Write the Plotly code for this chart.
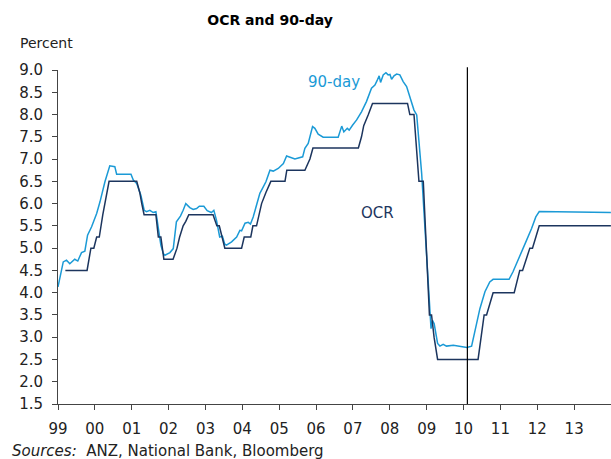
import plotly.graph_objects as go

# OCR (official cash rate)
ocr_dates = ["1999-03-15", "1999-10-16", "1999-11-23", "1999-12-22", "2000-01-19", "2000-02-14",
             "2000-03-20", "2000-04-09", "2000-05-21", "2001-02-19", "2001-03-21", "2001-04-10",
             "2001-05-03", "2001-08-28", "2001-09-21", "2001-10-16", "2001-11-15", "2002-02-14",
             "2002-03-25", "2002-04-20", "2002-05-25", "2002-06-20", "2002-07-20", "2003-03-17",
             "2003-04-24", "2003-05-18", "2003-06-12", "2003-07-12", "2003-12-25", "2004-01-20",
             "2004-03-25", "2004-04-15", "2004-05-21", "2004-06-13", "2004-07-10", "2004-08-22",
             "2004-10-10", "2005-02-27", "2005-03-17", "2005-09-12", "2005-11-01", "2005-12-01",
             "2007-02-24", "2007-03-27", "2007-04-18", "2007-06-03", "2007-07-14", "2008-06-25",
             "2008-07-18", "2008-08-28", "2008-10-16", "2008-11-28", "2009-01-28", "2009-02-18",
             "2009-03-15", "2009-04-19", "2010-05-25", "2010-07-24", "2010-08-17", "2010-10-21",
             "2011-05-18", "2011-07-12", "2011-08-09", "2011-10-20", "2011-11-15", "2012-01-21",
             "2013-12-31"]
ocr_vals = [4.5, 4.5, 5.0, 5.0, 5.25, 5.25,
            5.75, 6.0, 6.5, 6.5, 6.25, 6.0,
            5.75, 5.75, 5.25, 5.25, 4.75, 4.75,
            5.0, 5.25, 5.5, 5.6, 5.75, 5.75,
            5.5, 5.5, 5.25, 5.0, 5.0, 5.25,
            5.25, 5.5, 5.5, 5.75, 6.0, 6.25,
            6.5, 6.5, 6.75, 6.75, 7.0, 7.25,
            7.25, 7.5, 7.75, 8.0, 8.25, 8.25,
            8.0, 8.0, 6.5, 6.5, 3.5, 3.5,
            3.0, 2.5, 2.5, 3.5, 3.5, 4.0,
            4.0, 4.5, 4.5, 5.0, 5.0, 5.5,
            5.5]

# 90-day bank bill rate
bill_dates = ["1999-01-01", "1999-02-22", "1999-03-26", "1999-04-28", "1999-06-16", "1999-07-16",
              "1999-08-22", "1999-09-24", "1999-10-21", "1999-11-30", "2000-01-19", "2000-02-21",
              "2000-04-10", "2000-05-12", "2000-05-28", "2000-07-17", "2000-08-04", "2000-12-24",
              "2001-01-16", "2001-02-19", "2001-04-01", "2001-05-04", "2001-05-27", "2001-06-29",
              "2001-08-01", "2001-08-28", "2001-09-21", "2001-10-16", "2001-11-09", "2001-11-25",
              "2002-01-14", "2002-02-16", "2002-03-19", "2002-04-28", "2002-05-25", "2002-06-20",
              "2002-07-30", "2002-09-01", "2002-10-05", "2002-11-01", "2002-12-16", "2003-01-18",
              "2003-03-01", "2003-03-25", "2003-04-20", "2003-05-22", "2003-06-18", "2003-07-11",
              "2003-07-28", "2003-09-17", "2003-11-06", "2003-12-08", "2003-12-25", "2004-01-28",
              "2004-02-29", "2004-03-22", "2004-04-18", "2004-05-21", "2004-06-23", "2004-07-19",
              "2004-08-22", "2004-10-01", "2004-11-03", "2004-12-22", "2005-02-11", "2005-03-15",
              "2005-04-16", "2005-06-05", "2005-08-21", "2005-09-12", "2005-10-15", "2005-11-08",
              "2005-11-27", "2005-12-20", "2006-01-22", "2006-03-12", "2006-08-08", "2006-09-12",
              "2006-10-03", "2006-11-06", "2006-11-25", "2006-12-28", "2007-02-07", "2007-03-27",
              "2007-05-15", "2007-07-04", "2007-08-07", "2007-08-28", "2007-09-18", "2007-10-02",
              "2007-10-28", "2007-11-24", "2007-12-16", "2008-01-03", "2008-01-19", "2008-02-12",
              "2008-03-09", "2008-04-10", "2008-05-13", "2008-06-16", "2008-07-18", "2008-08-28",
              "2008-09-24", "2008-10-09", "2008-11-12", "2009-01-01", "2009-01-27", "2009-02-13",
              "2009-02-27", "2009-03-16", "2009-04-19", "2009-05-12", "2009-06-13", "2009-07-16",
              "2009-09-22", "2009-11-27", "2010-02-03", "2010-03-22", "2010-04-24", "2010-06-12",
              "2010-08-01", "2010-09-18", "2010-10-21", "2011-03-28", "2011-05-06", "2011-06-09",
              "2011-07-28", "2011-09-18", "2011-11-06", "2011-12-18", "2012-01-21", "2013-12-31"]
bill_vals = [4.13, 4.69, 4.73, 4.65, 4.75, 4.71,
             4.9, 4.93, 5.29, 5.48, 5.78, 6.04,
             6.49, 6.75, 6.85, 6.83, 6.66, 6.66,
             6.53, 6.45, 6.19, 5.85, 5.82, 5.85,
             5.8, 5.82, 5.44, 5.07, 4.88, 4.84,
             4.9, 4.99, 5.59, 5.72, 5.85, 6.0,
             5.91, 5.87, 5.89, 5.94, 5.94, 5.84,
             5.8, 5.85, 5.63, 5.25, 5.27, 5.09,
             5.07, 5.14, 5.25, 5.4, 5.39, 5.56,
             5.58, 5.54, 5.7, 5.97, 6.23, 6.34,
             6.49, 6.75, 6.73, 6.79, 6.9, 7.07,
             7.04, 7.0, 7.05, 7.24, 7.35, 7.59,
             7.73, 7.69, 7.56, 7.49, 7.49, 7.74,
             7.61, 7.69, 7.65, 7.76, 7.88, 8.06,
             8.29, 8.59, 8.66, 8.76, 8.87, 8.72,
             8.89, 8.94, 8.89, 8.9, 8.79, 8.87,
             8.91, 8.89, 8.74, 8.63, 8.4, 8.1,
             7.99, 7.58, 6.68, 4.8, 3.68, 3.19,
             3.38, 3.3, 2.86, 2.8, 2.84, 2.8,
             2.82, 2.8, 2.77, 2.8, 3.16, 3.64,
             4.02, 4.24, 4.3, 4.3, 4.47, 4.64,
             4.92, 5.18, 5.44, 5.7, 5.82, 5.8]

forecast_start = "2010-02-08"

LIGHT = "#1b9ad6"
NAVY = "#1c355e"
FONT = "DejaVu Sans"

fig = go.Figure()
fig.add_trace(go.Scatter(x=bill_dates, y=bill_vals, mode="lines", name="90-day",
                         line=dict(color=LIGHT, width=1.5)))
fig.add_trace(go.Scatter(x=ocr_dates, y=ocr_vals, mode="lines", name="OCR",
                         line=dict(color=NAVY, width=1.5)))

# start of forecast
fig.add_shape(type="line", xref="x", yref="paper", x0=forecast_start, x1=forecast_start,
              y0=0, y1=1.008, line=dict(color="black", width=1.2))

fig.add_annotation(x="2006-06-23", y=8.74, text="90-day", showarrow=False,
                   font=dict(color=LIGHT, size=15, family=FONT))
fig.add_annotation(x="2007-09-01", y=5.8, text="OCR", showarrow=False,
                   font=dict(color=NAVY, size=15, family=FONT))
fig.add_annotation(xref="paper", yref="paper", x=-0.0723, y=1.081, text="Percent",
                   showarrow=False, xanchor="left", yanchor="middle",
                   font=dict(color="#222", size=14, family=FONT))
fig.add_annotation(xref="paper", yref="paper", x=-0.0868, y=-0.1407,
                   text="<i>Sources:</i>  ANZ, National Bank, Bloomberg",
                   showarrow=False, xanchor="left", yanchor="middle",
                   font=dict(color="#222", size=15, family=FONT))

fig.update_layout(
    width=611, height=459,
    margin=dict(l=58, r=0, t=70, b=55),
    paper_bgcolor="white", plot_bgcolor="white",
    showlegend=False,
    title=dict(text="<b>OCR and 90-day</b>", x=0.442, xanchor="center", y=0.956, yanchor="middle",
               font=dict(size=14, family=FONT, color="black")),
    xaxis=dict(type="date", range=["1999-01-01", "2014-01-01"], tickformat="%y",
               tick0="1999-01-01", dtick="M12", ticks="outside", ticklen=5, tickcolor="#444",
               showline=True, linecolor="#444", linewidth=1, showgrid=False, zeroline=False,
               ticklabelstandoff=6, tickfont=dict(size=15, family=FONT, color="#222")),
    yaxis=dict(range=[1.5, 9.0], dtick=0.5, tickformat=".1f", ticks="outside", ticklen=5,
               tickcolor="#444", showline=True, linecolor="#444", linewidth=1, showgrid=False,
               zeroline=False, ticklabelstandoff=6, tickfont=dict(size=15, family=FONT, color="#222")),
)

# the page body has a default 8px margin; drop it so the figure sits at the window corner
fig.write_html("out.html", config={"displayModeBar": False},
               post_script="document.body.style.margin='0';document.body.style.overflow='hidden';")
